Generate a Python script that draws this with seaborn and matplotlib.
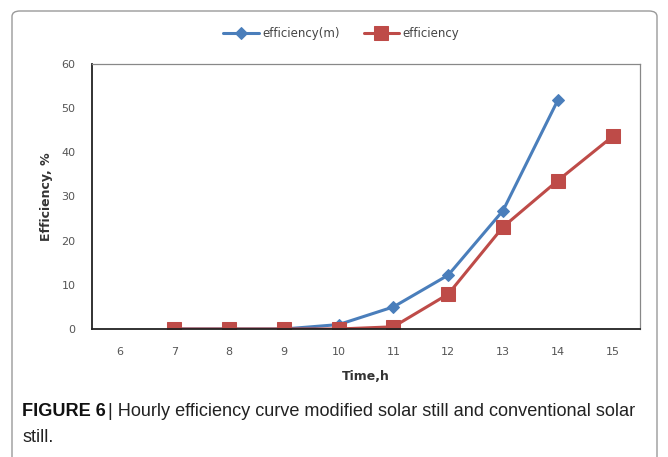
import matplotlib
matplotlib.use("Agg")
import matplotlib.pyplot as plt
from matplotlib.patches import FancyBboxPatch
import seaborn as sns
import pandas as pd

hours = [6, 7, 8, 9, 10, 11, 12, 13, 14, 15]
hours_m = [7, 8, 9, 10, 11, 12, 13, 14]
eff_m = [0, 0, 0, 1.0, 5.0, 12.2, 26.8, 51.8]
hours_c = [7, 8, 9, 10, 11, 12, 13, 14, 15]
eff_c = [0, 0, 0, 0, 0.5, 7.9, 23.1, 33.6, 43.6]
y_ticks = [0, 10, 20, 30, 40, 50, 60]

df_m = pd.DataFrame({"hour": hours_m, "eff": eff_m})
df_c = pd.DataFrame({"hour": hours_c, "eff": eff_c})

sns.set_style("white")
plt.rcParams['font.family'] = ['DejaVu Sans']

fig = plt.figure(figsize=(6.68, 4.57), dpi=100)
W, H = 668, 457

# outer rounded border
border = FancyBboxPatch((12 / W, -0.05), (657 - 12) / W, (457 - 11) / H + 0.05,
                        boxstyle="round,pad=0,rounding_size=0.012",
                        transform=fig.transFigure, fill=False,
                        edgecolor="#9a9a9a", linewidth=1.0)
fig.patches.append(border)

ax = fig.add_axes([92 / W, 1 - 329 / H, (640 - 92) / W, (329 - 64) / H])

blue = "#4A7EBB"
red = "#BE4B48"
sns.lineplot(data=df_m, x="hour", y="eff", ax=ax, color=blue, linewidth=2.2,
             marker="D", markersize=6.5, markeredgecolor=blue, label="efficiency(m)")
sns.lineplot(data=df_c, x="hour", y="eff", ax=ax, color=red, linewidth=2.2,
             marker="s", markersize=9.5, markeredgecolor=red, label="efficiency")

ax.set_xlim(5.5, 15.5)
ax.set_ylim(0, 60)
ax.set_xticks(hours)
ax.set_xticklabels([str(h) for h in hours])
ax.set_xticks([h + 0.5 for h in [5] + hours], minor=True)
ax.set_yticks(y_ticks)
ax.tick_params(axis="x", which="major", length=0, pad=13, labelsize=8, labelcolor="#555555")
ax.tick_params(axis="x", which="minor", length=4, width=0.8, color="#666666", direction="out")
ax.tick_params(axis="y", which="major", length=4, width=0.8, color="#666666", direction="out",
               labelsize=8, labelcolor="#555555", pad=8)

for s in ["left", "bottom"]:
    ax.spines[s].set_color("#222222")
    ax.spines[s].set_linewidth(1.3)
for s in ["top", "right"]:
    ax.spines[s].set_color("#888888")
    ax.spines[s].set_linewidth(0.9)

ax.set_xlabel("Time,h", fontsize=9, fontweight="bold", color="#333333", labelpad=9)
ax.set_ylabel("Efficiency, %", fontsize=9, fontweight="bold", color="#333333", labelpad=6)

leg = ax.legend(loc="lower center", bbox_to_anchor=(0.455, 1.05), ncol=2, frameon=False,
                fontsize=8.5, handlelength=3, columnspacing=2.0, handletextpad=0.3)
for t in leg.get_texts():
    t.set_color("#444444")

cap_family = ["Liberation Sans", "DejaVu Sans"]
cap_size = 13.1
t1 = fig.text(22 / W, 1 - 412 / H, "FIGURE 6", fontsize=cap_size, fontweight="bold",
              family=cap_family, va="center", ha="left", color="#111111")
fig.canvas.draw()
bb = t1.get_window_extent(renderer=fig.canvas.get_renderer())
x_next = (bb.x1 + 2) / W
fig.text(x_next, 1 - 412 / H, "| Hourly efficiency curve modified solar still and conventional solar",
         fontsize=cap_size, family=cap_family, va="center", ha="left", color="#222222")
fig.text(22 / W, 1 - 438 / H, "still.", fontsize=cap_size, family=cap_family,
         va="center", ha="left", color="#222222")

fig.savefig("out.png", dpi=100)
